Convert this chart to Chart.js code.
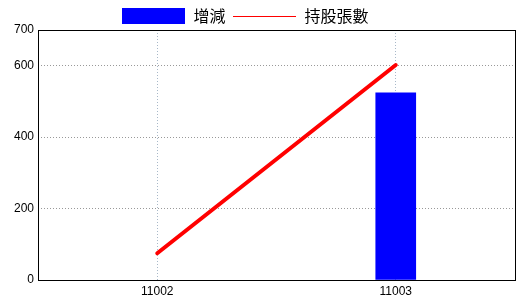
<!DOCTYPE html>
<html>
<head>
<meta charset="utf-8">
<script src="https://cdn.jsdelivr.net/npm/chart.js@4"></script>
<style>
  html, body { margin: 0; padding: 0; background: #fff; }
  #wrap { width: 520px; height: 300px; }
</style>
</head>
<body>
<div id="wrap"><canvas id="c" width="520" height="300"></canvas></div>
<script>
// 資料
const periods = ['11002', '11003'];
const changeValues = [null, 524];      // 增減
const sharesValues = [75, 602];        // 持股張數
const yTicks = [0, 200, 400, 600, 700];

// 圖例用的小圖
function legendIcon(kind) {
    const cv = document.createElement('canvas');
    cv.width = 63; cv.height = 16;
    const g = cv.getContext('2d');
    if (kind === 'bar') {
        g.fillStyle = '#0000ff';
        g.fillRect(0, 0, 63, 16);
    } else {
        g.fillStyle = '#ff0000';
        g.fillRect(0, 8, 63, 1);
    }
    return cv;
}

const frame = {
    id: 'frame',
    afterLayout(chart) {
        chart.legend.left -= 12;
        chart.legend.right -= 12;
    },
    beforeDatasetsDraw(chart) {
        const a = chart.chartArea, ctx = chart.ctx;
        ctx.save();
        ctx.strokeStyle = '#000';
        ctx.lineWidth = 1;
        ctx.strokeRect(Math.round(a.left) + 0.5, Math.round(a.top) + 0.5,
            Math.round(a.right - a.left), Math.round(a.bottom - a.top));
        ctx.restore();
    }
};

const legendFit = {
    id: 'legendFit',
    beforeInit(chart) {
        const orig = chart.legend.fit;
        chart.legend.fit = function () { orig.call(this); this.height = 30; };
    }
};

new Chart(document.getElementById('c'), {
    type: 'bar',
    data: {
        labels: periods,
        datasets: [
            {
                label: '增減',
                data: changeValues,
                backgroundColor: '#0000ff',
                barThickness: 40,
                pointStyle: legendIcon('bar')
            },
            {
                type: 'line',
                label: '持股張數',
                data: sharesValues,
                borderColor: '#ff0000',
                backgroundColor: '#ff0000',
                borderWidth: 4,
                borderCapStyle: 'round',
                pointRadius: 0,
                pointStyle: legendIcon('line')
            }
        ]
    },
    options: {
        responsive: false,
        animation: false,
        layout: { padding: { left: 0, right: 5, top: 0, bottom: 0 } },
        plugins: {
            legend: {
                position: 'top',
                labels: {
                    usePointStyle: true,
                    pointStyleWidth: 63,
                    boxHeight: 16,
                    padding: 8,
                    color: '#000',
                    sort: (a, b) => a.datasetIndex - b.datasetIndex,
                    font: { family: '"Noto Sans CJK TC"', size: 16 }
                }
            },
            tooltip: { enabled: false }
        },
        scales: {
            x: {
                grid: {
                    offset: false,
                    drawTicks: false,
                    color: '#a8b8c8'
                },
                border: { display: false, dash: [1, 2] },
                ticks: { color: '#000', padding: 4, font: { family: '"Liberation Sans"', size: 12 } },
                afterFit(s) { s.height = 20; }
            },
            y: {
                min: 0,
                max: 700,
                afterBuildTicks(s) { s.ticks = yTicks.map(v => ({ value: v })); },
                grid: {
                    drawTicks: false,
                    color: ctx => (ctx.tick && (ctx.tick.value === 0 || ctx.tick.value === 700)) ? 'rgba(0,0,0,0)' : '#999'
                },
                border: { display: false, dash: [1, 2] },
                ticks: { color: '#000', padding: 4, font: { family: '"Liberation Sans"', size: 12 } },
                afterFit(s) { s.width = 38; }
            }
        }
    },
    plugins: [legendFit, frame]
});
</script>
</body>
</html>
